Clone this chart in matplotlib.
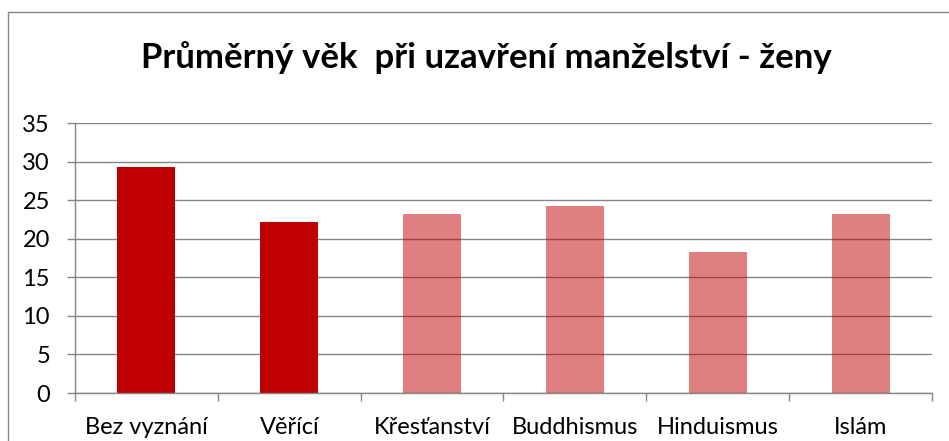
import matplotlib
matplotlib.use("Agg")
import matplotlib.pyplot as plt
from matplotlib.patches import Rectangle
from matplotlib.ticker import FixedLocator, NullFormatter

categories = ["Bez vyznání", "Věřící", "Křesťanství", "Buddhismus", "Hinduismus", "Islám"]
values = [29.3, 22.2, 23.2, 24.3, 18.3, 23.2]
bar_colors = ["#C00000", "#C00000", "#C0000080", "#C0000080", "#C0000080", "#C0000080"]
title = "Průměrný věk  při uzavření manželství - ženy"
yticks = [0, 5, 10, 15, 20, 25, 30, 35]

plt.rcParams['font.family'] = ['Lato', 'DejaVu Sans']

fig = plt.figure(figsize=(9.49, 4.41), dpi=100)
ax = fig.add_axes([75/949, 48/441, 857/949, 270/441])

ax.set_axisbelow(True)
ax.yaxis.grid(True, color="#868686", linewidth=1.0)
x = list(range(len(categories)))
ax.bar(x, values, width=0.405, color=bar_colors, zorder=2)

ax.set_xlim(-0.5, len(categories) - 0.5)
ax.set_ylim(0, 35)
ax.set_yticks(yticks)
ax.set_xticks(x)
ax.set_xticklabels(categories)
ax.xaxis.set_minor_locator(FixedLocator([i - 0.5 for i in range(len(categories) + 1)]))
ax.xaxis.set_minor_formatter(NullFormatter())
ax.tick_params(axis='x', which='major', length=0, pad=17, labelsize=17, colors='black')
ax.tick_params(axis='x', which='minor', length=6, width=1, color='#868686', direction='out')
ax.tick_params(axis='y', length=6, width=1, color='#868686', pad=12, labelsize=17)

for s in ['top', 'right']:
    ax.spines[s].set_visible(False)
for s in ['left', 'bottom']:
    ax.spines[s].set_color('#868686')
    ax.spines[s].set_linewidth(1.0)

fig.text(486/949, 1 - 68/441, title, ha='center', va='baseline', fontsize=25, fontweight='bold')

border = Rectangle((8/949, -0.05), 1.0, 1 - 12/441 + 0.05, transform=fig.transFigure,
                   fill=False, edgecolor='#868686', linewidth=1.0)
fig.patches.append(border)

fig.savefig("out.png", dpi=100)
